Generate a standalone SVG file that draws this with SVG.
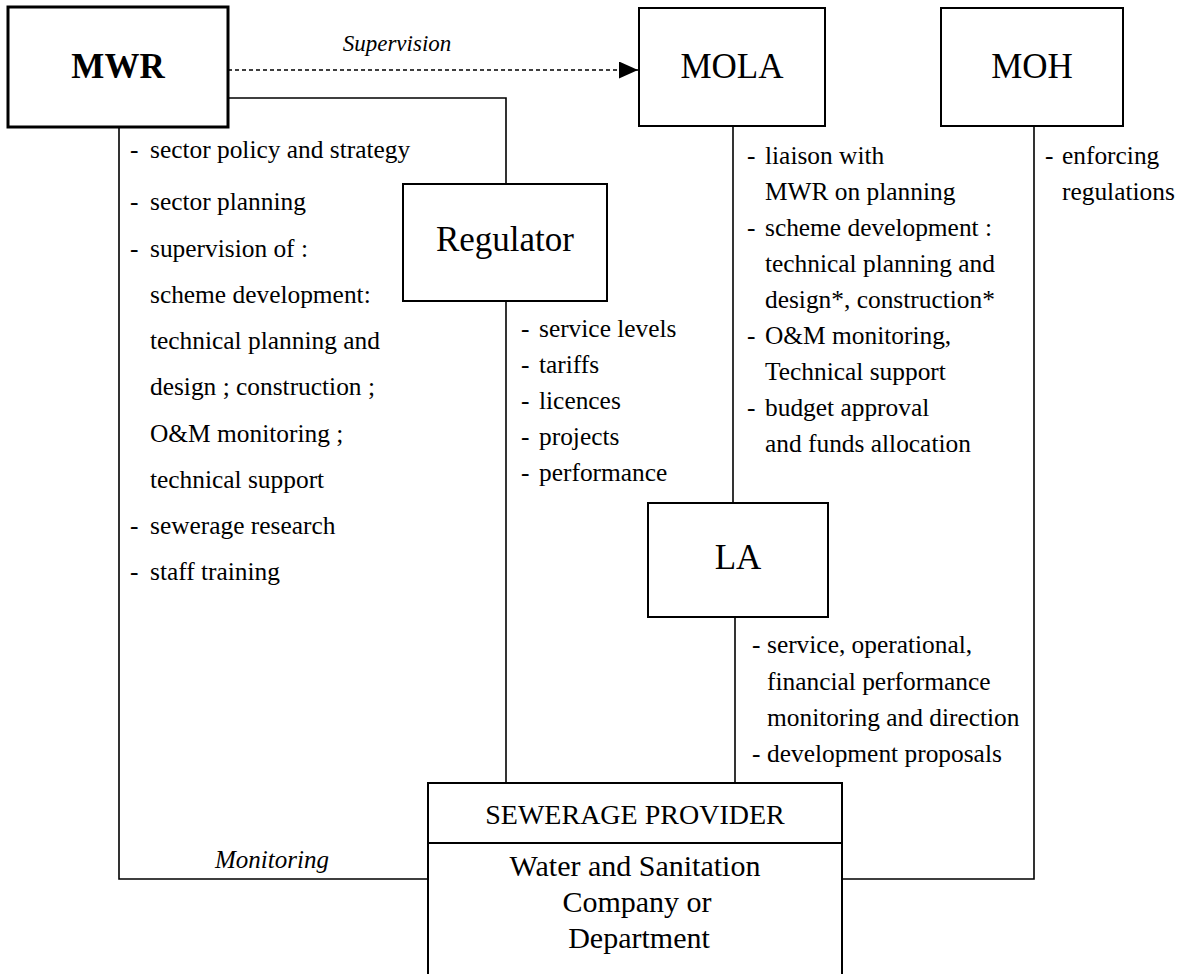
<svg xmlns="http://www.w3.org/2000/svg" width="1188" height="974" viewBox="0 0 1188 974">
<style>
.box{fill:#fff;stroke:#000;stroke-width:2}
.thick{stroke-width:3}
.ln{fill:none;stroke:#000;stroke-width:1.6}
.dash{fill:none;stroke:#000;stroke-width:1.3;stroke-dasharray:4 3}
text{font-family:"Liberation Serif","Times New Roman",serif;fill:#000}
.title{font-size:35px;text-anchor:middle}
.bold{font-weight:bold}
.it{font-style:italic}
.li{font-size:25.4px}
.mid{text-anchor:middle}
</style>
<defs>
<marker id="arr" markerUnits="userSpaceOnUse" markerWidth="20" markerHeight="18" refX="19" refY="8.5" orient="auto">
<path d="M0,0 L19,8.5 L0,17 z" fill="#000"/>
</marker>
</defs>
<rect width="1188" height="974" fill="#fff"/>
<g id="connectors">
<path class="dash" d="M228,70 H638" marker-end="url(#arr)"/>
<path class="ln" d="M228,98 H506 V184"/>
<path class="ln" d="M119,127 V879 H428"/>
<path class="ln" d="M506,301 V783"/>
<path class="ln" d="M733,126 V503"/>
<path class="ln" d="M735,617 V783"/>
<path class="ln" d="M1034,126 V879 H842"/>
<text class="it" x="397" y="51" font-size="23" text-anchor="middle">Supervision</text>
<text class="it" x="215" y="868" font-size="25">Monitoring</text>
</g>
<g id="mwr">
<rect class="box thick" x="8" y="7" width="220" height="120"/>
<text class="title bold" x="118" y="78" font-size="34">MWR</text>
</g>
<g id="mola">
<rect class="box" x="639" y="8" width="186" height="118"/>
<text class="title" x="732" y="78">MOLA</text>
</g>
<g id="moh">
<rect class="box" x="941" y="8" width="182" height="118"/>
<text class="title" x="1032" y="78" font-size="36">MOH</text>
</g>
<g id="regulator">
<rect class="box" x="403" y="184" width="204" height="117"/>
<text class="title" x="505" y="251">Regulator</text>
</g>
<g id="la">
<rect class="box" x="648" y="503" width="180" height="114"/>
<text class="title" x="738" y="569">LA</text>
</g>
<g id="sewerage-provider">
<rect class="box" x="428" y="783" width="414" height="200"/>
<line x1="428" y1="843" x2="842" y2="843" stroke="#000" stroke-width="2"/>
<text class="mid" x="635" y="824" font-size="28">SEWERAGE PROVIDER</text>
<text class="mid" x="635" y="876" font-size="30">Water and Sanitation</text>
<text class="mid" x="637" y="912" font-size="30">Company or</text>
<text class="mid" x="639" y="948" font-size="30">Department</text>
</g>
<g id="mwr-list" class="li">
<text x="130" y="158">-</text><text x="150" y="158">sector policy and strategy</text>
<text x="130" y="210">-</text><text x="150" y="210">sector planning</text>
<text x="130" y="257">-</text><text x="150" y="257">supervision of :</text>
<text x="150" y="303">scheme development:</text>
<text x="150" y="349">technical planning and</text>
<text x="150" y="395">design ; construction ;</text>
<text x="150" y="442">O&amp;M monitoring ;</text>
<text x="150" y="488">technical support</text>
<text x="130" y="534">-</text><text x="150" y="534">sewerage research</text>
<text x="130" y="580">-</text><text x="150" y="580">staff training</text>
</g>
<g id="regulator-list" class="li">
<text x="521" y="337">-</text><text x="539" y="337">service levels</text>
<text x="521" y="373">-</text><text x="539" y="373">tariffs</text>
<text x="521" y="409">-</text><text x="539" y="409">licences</text>
<text x="521" y="445">-</text><text x="539" y="445">projects</text>
<text x="521" y="481">-</text><text x="539" y="481">performance</text>
</g>
<g id="mola-list" class="li">
<text x="747" y="164">-</text><text x="765" y="164">liaison with</text>
<text x="765" y="200">MWR on planning</text>
<text x="747" y="236">-</text><text x="765" y="236">scheme development :</text>
<text x="765" y="272">technical planning and</text>
<text x="765" y="308">design*, construction*</text>
<text x="747" y="344">-</text><text x="765" y="344">O&amp;M monitoring,</text>
<text x="765" y="380">Technical support</text>
<text x="747" y="416">-</text><text x="765" y="416">budget approval</text>
<text x="765" y="452">and funds allocation</text>
</g>
<g id="moh-list" class="li">
<text x="1045" y="164">-</text><text x="1062" y="164">enforcing</text>
<text x="1062" y="200">regulations</text>
</g>
<g id="la-list" class="li">
<text x="752" y="653">-</text><text x="767" y="653">service, operational,</text>
<text x="767" y="690">financial performance</text>
<text x="767" y="726">monitoring and direction</text>
<text x="752" y="762">-</text><text x="767" y="762">development proposals</text>
</g>
</svg>
